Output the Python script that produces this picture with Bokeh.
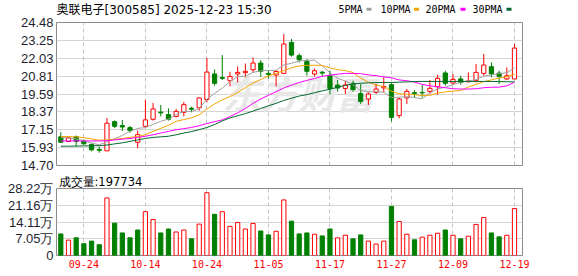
import numpy as np
from bokeh.plotting import figure
from bokeh.layouts import column
from bokeh.core.properties import value
from bokeh.models import (Range1d, FixedTicker, Label, CustomJSTickFormatter,
                          NumeralTickFormatter, ColumnDataSource, Grid, Title)
from bokeh.embed import file_html
from bokeh.resources import INLINE

# ---------------- data ----------------
title_text = "奥联电子[300585] 2025-12-23 15:30"
dates = ["09-19", "09-22", "09-23", "09-24", "09-25", "09-26", "09-29", "09-30",
         "10-09", "10-10", "10-13", "10-14", "10-15", "10-16", "10-17", "10-20",
         "10-21", "10-22", "10-23", "10-24", "10-27", "10-28", "10-29", "10-30",
         "10-31", "11-03", "11-04", "11-05", "11-06", "11-07", "11-10", "11-11",
         "11-12", "11-13", "11-14", "11-17", "11-18", "11-19", "11-20", "11-21",
         "11-24", "11-25", "11-26", "11-27", "11-28", "12-01", "12-02", "12-03",
         "12-04", "12-05", "12-08", "12-09", "12-10", "12-11", "12-12", "12-15",
         "12-16", "12-17", "12-18", "12-19"]
opens = [16.66, 16.34, 16.66, 16.38, 16.13, 15.80, 15.70, 17.70, 17.43, 17.29,
         16.29, 17.38, 17.86, 18.35, 18.18, 18.06, 18.34, 18.62, 18.64, 19.22,
         20.96, 20.71, 20.50, 20.96, 21.05, 21.25, 21.71, 21.00, 20.89, 21.00,
         23.12, 22.21, 21.82, 20.96, 21.08, 20.84, 20.20, 19.97, 20.32, 19.63,
         19.25, 19.70, 20.01, 20.23, 18.11, 19.32, 19.68, 19.70, 19.77, 20.09,
         21.03, 20.34, 20.62, 20.43, 20.50, 21.00, 21.46, 21.02, 20.62, 20.62]
highs = [16.97, 16.65, 16.75, 16.49, 16.22, 16.00, 17.95, 17.78, 17.82, 17.40,
         17.09, 19.18, 18.98, 18.84, 18.61, 18.57, 19.05, 18.72, 19.35, 22.05,
         21.27, 22.25, 21.11, 21.48, 21.68, 22.09, 21.91, 21.23, 21.23, 23.69,
         23.35, 22.36, 21.98, 21.34, 21.18, 21.18, 20.55, 20.50, 20.50, 20.28,
         19.70, 20.28, 20.73, 20.38, 19.36, 19.93, 19.86, 20.23, 20.55, 20.91,
         21.18, 20.96, 20.84, 21.07, 21.64, 22.32, 21.75, 21.18, 21.41, 23.00]
lows = [16.25, 16.30, 16.00, 16.13, 15.67, 15.57, 15.70, 17.25, 17.07, 16.95,
        15.88, 17.38, 17.77, 18.06, 17.77, 17.99, 18.06, 18.34, 18.45, 19.02,
        20.16, 20.55, 20.11, 20.38, 20.73, 21.07, 20.77, 20.66, 20.11, 21.00,
        22.14, 21.75, 20.84, 20.79, 20.77, 19.55, 19.75, 19.59, 19.75, 18.91,
        18.84, 19.59, 19.70, 17.72, 17.93, 18.91, 19.36, 19.36, 19.59, 19.55,
        20.16, 20.27, 20.23, 20.38, 20.38, 20.84, 20.73, 20.27, 20.55, 20.62]
closes = [16.29, 16.59, 16.34, 16.18, 15.77, 15.74, 17.59, 17.38, 17.33, 17.09,
          16.81, 17.82, 18.57, 18.30, 17.86, 18.40, 18.86, 18.55, 19.32, 21.09,
          20.32, 20.66, 20.79, 21.07, 21.14, 21.71, 21.14, 20.93, 21.13, 23.01,
          22.25, 21.93, 21.14, 21.18, 21.02, 19.97, 20.00, 20.21, 19.89, 19.07,
          19.59, 19.93, 20.10, 17.99, 19.25, 19.77, 19.62, 19.67, 19.98, 20.66,
          20.32, 20.59, 20.38, 20.48, 21.07, 21.57, 20.96, 20.80, 20.84, 22.73]
prev_close = 16.45  # close of the session before the first bar
ma5 = [16.62, 16.58, 16.52, 16.40, 16.23, 16.12, 16.32, 16.53, 16.76, 17.03,
       17.24, 17.29, 17.52, 17.72, 17.87, 18.19, 18.40, 18.39, 18.60, 19.24,
       19.63, 19.99, 20.44, 20.79, 20.80, 21.07, 21.17, 21.20, 21.21, 21.58,
       21.69, 21.85, 21.89, 21.90, 21.50, 21.05, 20.66, 20.48, 20.22, 19.83,
       19.75, 19.74, 19.72, 19.34, 19.37, 19.41, 19.35, 19.26, 19.66, 19.94,
       20.05, 20.24, 20.39, 20.49, 20.57, 20.82, 20.89, 20.98, 21.05, 21.38]
ma10 = [16.68, 16.68, 16.66, 16.60, 16.52, 16.43, 16.45, 16.50, 16.55, 16.63,
        16.68, 16.81, 17.03, 17.24, 17.45, 17.72, 17.84, 17.96, 18.16, 18.56,
        18.91, 19.19, 19.42, 19.69, 20.02, 20.35, 20.58, 20.82, 21.00, 21.19,
        21.38, 21.51, 21.55, 21.56, 21.54, 21.37, 21.26, 21.19, 21.06, 20.67,
        20.40, 20.20, 20.10, 19.78, 19.60, 19.57, 19.54, 19.49, 19.50, 19.65,
        19.73, 19.79, 19.82, 20.07, 20.25, 20.43, 20.56, 20.68, 20.76, 20.95]
ma20 = [16.38, 16.38, 16.38, 16.38, 16.38, 16.38, 16.40, 16.45, 16.50, 16.55,
        16.62, 16.70, 16.80, 16.92, 17.03, 17.15, 17.22, 17.30, 17.42, 17.57,
        17.70, 17.82, 18.05, 18.30, 18.60, 18.95, 19.25, 19.50, 19.75, 20.00,
        20.20, 20.38, 20.52, 20.65, 20.80, 20.88, 20.95, 21.00, 21.00, 20.98,
        20.90, 20.84, 20.76, 20.70, 20.55, 20.50, 20.40, 20.25, 20.15, 20.08,
        20.02, 19.95, 19.93, 19.93, 19.95, 20.02, 20.05, 20.06, 20.15, 20.38]
ma30 = [16.02, 16.02, 16.03, 16.04, 16.05, 16.06, 16.10, 16.18, 16.25, 16.35,
        16.45, 16.55, 16.62, 16.66, 16.70, 16.80, 16.92, 17.02, 17.15, 17.30,
        17.50, 17.75, 17.95, 18.10, 18.25, 18.42, 18.60, 18.78, 18.95, 19.15,
        19.30, 19.45, 19.55, 19.68, 19.80, 19.92, 20.05, 20.18, 20.28, 20.32,
        20.35, 20.37, 20.38, 20.38, 20.40, 20.42, 20.44, 20.45, 20.45, 20.45,
        20.45, 20.45, 20.45, 20.45, 20.45, 20.45, 20.45, 20.44, 20.43, 20.42]
volume_wan = [9.09, 6.47, 7.44, 4.96, 6.06, 4.54, 24.24, 13.63, 9.50, 7.44,
              10.74, 18.45, 15.15, 9.50, 11.15, 9.91, 10.74, 7.02, 13.22, 26.44,
              17.35, 18.45, 12.26, 13.91, 11.15, 13.50, 10.33, 8.68, 10.19, 23.41,
              14.46, 9.09, 9.50, 8.95, 8.26, 11.15, 7.44, 8.54, 7.02, 8.68,
              6.06, 4.82, 6.06, 20.66, 14.32, 8.95, 6.61, 7.71, 8.54, 9.36,
              10.74, 8.54, 7.02, 8.12, 13.08, 15.97, 9.50, 7.85, 8.54, 19.7734]
price_ticks = [14.70, 15.93, 17.15, 18.37, 19.59, 20.81, 22.03, 23.25, 24.48]
vol_ticks = [0, 7.05, 14.11, 21.16, 28.22]
date_tick_idx = [3, 11, 19, 27, 35, 43, 51, 59]
ma_names = ["5PMA", "10PMA", "20PMA", "30PMA"]
watermark = "东方财富"

# ---------------- styles ----------------
RED = "#ff0000"
GREEN = "#008000"
MA_COLORS = ["#a0a0a0", "#f5a300", "#ff00ff", "#006a30"]
GRID_H = "#d4d4d4"
GRID_V = "#c4c4c4"
BORDER = "#8c8c8c"
AXIS_TXT = "#1e1e2e"
W = 578
LB = 56  # left border (px)
RB = 56  # right border (px)
HDR_H = 15

n = len(closes)
x = np.arange(n)
o = np.array(opens); c = np.array(closes)
up = c > o
cand = ColumnDataSource(dict(
    x=x, high=highs, low=lows,
    top=np.maximum(o, c), bottom=np.minimum(o, c),
    line=[RED if u else GREEN for u in up],
    fill=["white" if u else GREEN for u in up],
))
prevs = np.concatenate([[prev_close], c[:-1]])
vup = c >= prevs
vol = ColumnDataSource(dict(
    x=x, top=volume_wan,
    line=[RED if u else GREEN for u in vup],
    fill=["white" if u else GREEN for u in vup],
))

xr = Range1d(-0.56, 60.04)


def clean_axes(fig):
    for ax in list(fig.xaxis) + list(fig.yaxis):
        ax.axis_line_color = None
        ax.major_tick_line_color = None
        ax.minor_tick_line_color = None
        ax.major_tick_out = 0
        ax.major_tick_in = 0
        ax.minor_tick_out = 0
        ax.minor_tick_in = 0


# ---------------- header strip (title + MA legend) ----------------
h = figure(width=W, height=HDR_H, x_range=Range1d(LB, W - RB), y_range=Range1d(0, HDR_H),
           output_backend="svg", toolbar_location=None,
           x_axis_location=None, y_axis_location=None,
           min_border_left=LB, min_border_right=RB, min_border_top=0, min_border_bottom=0)
h.outline_line_color = None
h.xgrid.visible = False
h.ygrid.visible = False
h.text(x=[56], y=[HDR_H - 9], text=[title_text],
       text_font=value("DejaVu Sans, Noto Sans CJK SC"),
       text_font_size=value("12px"), text_color="black", text_baseline="middle")
leg_x = [338, 380, 425, 472]
sw_x = [368.5, 416, 462.5, 508.5]
h.text(x=leg_x, y=[HDR_H - 9] * 4, text=ma_names, text_font=value("DejaVu Sans Mono"),
       text_font_size=value("10px"), text_color="black", text_baseline="middle")
h.rect(x=sw_x, y=[HDR_H - 8.7] * 4, width=5, height=3, fill_color=MA_COLORS,
       line_color=None)

# ---------------- price panel ----------------
p = figure(width=W, height=157, x_range=xr, y_range=Range1d(14.70, 24.48),
           output_backend="svg", toolbar_location=None, x_axis_location=None,
           min_border_left=LB, min_border_right=RB, min_border_top=7,
           min_border_bottom=7)
p.outline_line_color = BORDER
p.background_fill_color = "white"
p.border_fill_color = "white"
p.yaxis.ticker = FixedTicker(ticks=price_ticks)
p.yaxis.formatter = NumeralTickFormatter(format="0.00")
p.yaxis.major_label_standoff = 3
p.yaxis.major_label_text_font = "Liberation Sans"
p.yaxis.major_label_text_font_size = "13px"
p.yaxis.major_label_text_color = AXIS_TXT
clean_axes(p)
p.ygrid.ticker = FixedTicker(ticks=price_ticks)
p.ygrid.grid_line_color = GRID_H
p.xgrid.visible = False
p.add_layout(Grid(dimension=0, ticker=FixedTicker(ticks=date_tick_idx),
                  grid_line_color=GRID_V, grid_line_dash="4 3"))

wm = Label(x=21, y=19.68, text=watermark, text_font="Noto Sans CJK SC",
           text_font_size="38px", text_font_style="bold italic",
           text_color="#e8e8e8", text_baseline="middle", level="underlay")
p.add_layout(wm)

p.segment(x0="x", y0="low", x1="x", y1="high", color="line", line_width=1, source=cand)
p.vbar(x="x", width=0.55, top="top", bottom="bottom", fill_color="fill",
       line_color="line", line_width=1, source=cand)
for ma, col in zip([ma5, ma10, ma20, ma30], MA_COLORS):
    p.line(x, ma, color=col, line_width=1)

# ---------------- volume panel ----------------
q = figure(width=W, height=104, x_range=xr, y_range=Range1d(0, vol_ticks[-1]),
           output_backend="svg", toolbar_location=None,
           min_border_left=LB, min_border_right=RB, min_border_top=15,
           min_border_bottom=21)
q.title = Title(text="成交量:%d" % round(volume_wan[-1] * 10000), align="left",
                offset=2, standoff=0, text_font="DejaVu Sans",
                text_font_size="11.5px", text_font_style="normal", text_color="black")
q.outline_line_color = BORDER
q.background_fill_color = "white"
q.border_fill_color = "white"
q.yaxis.ticker = FixedTicker(ticks=vol_ticks)
q.yaxis.formatter = CustomJSTickFormatter(code="return tick == 0 ? '0' : tick.toFixed(2) + '万';")
q.yaxis.major_label_standoff = 3
q.yaxis.major_label_text_font = "Liberation Sans"
q.yaxis.major_label_text_font_size = "13px"
q.yaxis.major_label_text_color = AXIS_TXT
q.xaxis.ticker = FixedTicker(ticks=date_tick_idx)
q.xaxis.major_label_overrides = {i: dates[i] for i in date_tick_idx}
q.xaxis.major_label_standoff = 4
q.xaxis.major_label_text_font = "DejaVu Sans Mono"
q.xaxis.major_label_text_font_size = "10px"
q.xaxis.major_label_text_color = RED
clean_axes(q)
q.ygrid.ticker = FixedTicker(ticks=vol_ticks)
q.ygrid.grid_line_color = GRID_H
q.xgrid.ticker = FixedTicker(ticks=date_tick_idx)
q.xgrid.grid_line_color = GRID_V
q.xgrid.grid_line_dash = "4 3"

q.vbar(x="x", width=0.55, top="top", bottom=0, fill_color="fill",
       line_color="line", line_width=1, source=vol)

layout = column(h, p, q, spacing=0)
open("out.html", "w").write(file_html(layout, INLINE))
